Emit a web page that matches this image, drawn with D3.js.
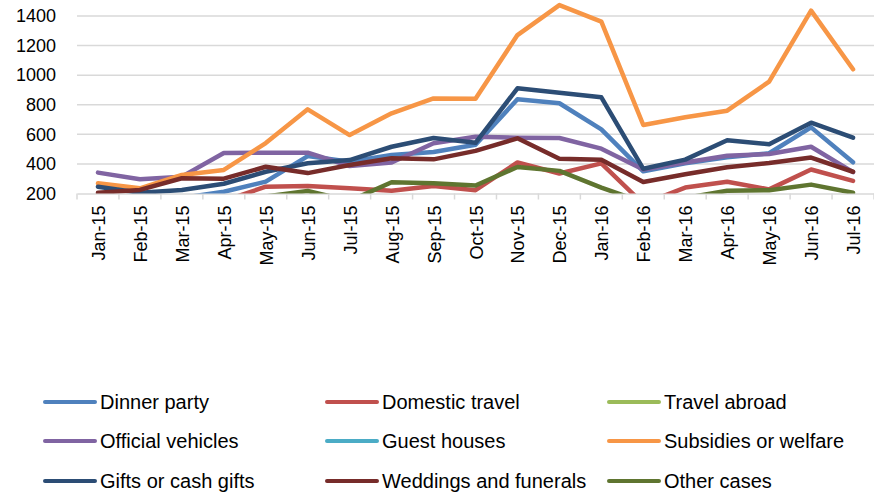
<!DOCTYPE html>
<html>
<head>
<meta charset="utf-8">
<script src="https://cdn.jsdelivr.net/npm/d3@7"></script>
<style>
  body { margin: 0; background: #fff; }
  svg text { font-family: "Liberation Sans", Arial, sans-serif; fill: #000; }
</style>
</head>
<body>
<svg id="chart" width="874" height="495"></svg>
<script>
var months = ["Jan-15","Feb-15","Mar-15","Apr-15","May-15","Jun-15","Jul-15","Aug-15","Sep-15","Oct-15",
  "Nov-15","Dec-15","Jan-16","Feb-16","Mar-16","Apr-16","May-16","Jun-16","Jul-16"];
var yTicks = [200, 400, 600, 800, 1000, 1200, 1400];

var dinnerParty      = [150,160,170,212,280,453,415,460,480,530,837,810,634,350,405,445,472,647,411];
var domesticTravel   = [120,130,140,150,246,251,235,219,251,222,410,335,404,130,240,280,228,362,285];
var travelAbroad     = [60,70,65,80,90,100,95,110,120,115,150,140,130,90,100,110,105,120,100];
var officialVehicles = [341,296,314,474,476,476,386,410,540,584,577,575,503,362,410,455,467,516,345];
var guestHouses      = [40,50,45,60,70,80,75,90,95,100,130,120,110,70,80,85,90,100,85];
var subsidies        = [269,235,325,359,541,769,595,742,843,841,1271,1474,1362,663,715,760,956,1436,1040];
var giftsCash        = [246,205,224,266,347,404,426,516,575,543,911,881,850,367,429,560,533,679,577];
var weddings         = [205,224,303,300,381,338,393,438,431,488,573,435,428,278,330,378,406,443,347];
var otherCases       = [100,110,120,150,180,217,150,276,269,254,379,353,240,140,170,218,222,260,205];

var series = [
  {name: "Dinner party", values: dinnerParty, color: "#4f81bd"},
  {name: "Domestic travel", values: domesticTravel, color: "#c0504d"},
  {name: "Travel abroad", values: travelAbroad, color: "#9bbb59"},
  {name: "Official vehicles", values: officialVehicles, color: "#8064a2"},
  {name: "Guest houses", values: guestHouses, color: "#4bacc6"},
  {name: "Subsidies or welfare", values: subsidies, color: "#f79646"},
  {name: "Gifts or cash gifts", values: giftsCash, color: "#2c4d75"},
  {name: "Weddings and funerals", values: weddings, color: "#772c2a"},
  {name: "Other cases", values: otherCases, color: "#5f7530"}
];

var svg = d3.select("#chart");
var plot = {left: 77, right: 874, top: 16, bottom: 193.5};

var x = d3.scaleBand().domain(months).range([plot.left, plot.right]).padding(0);
var y = d3.scaleLinear().domain([200, 1400]).range([plot.bottom, plot.top]);

// gridlines
svg.append("g").selectAll("line")
  .data(yTicks.slice(1))
  .join("line")
  .attr("x1", plot.left).attr("x2", plot.right)
  .attr("y1", function(d) { return y(d); }).attr("y2", function(d) { return y(d); })
  .attr("stroke", "#d9d9d9").attr("stroke-width", 1.5);

// y labels
svg.append("g").selectAll("text")
  .data(yTicks)
  .join("text")
  .attr("x", 56)
  .attr("y", function(d) { return y(d); })
  .attr("dy", "0.35em")
  .attr("text-anchor", "end")
  .style("font-size", "18px")
  .text(function(d) { return d; });

// x axis
var xAxis = d3.axisBottom(x).tickSize(0).tickFormat("");
var gx = svg.append("g").attr("transform", "translate(0," + y(200) + ")").call(xAxis);
gx.select(".domain").attr("stroke", "#d9d9d9").attr("stroke-width", 1.5);
gx.selectAll(".tick").remove();
gx.selectAll("line.sep")
  .data(months.concat(["end"]))
  .join("line")
  .attr("class", "sep")
  .attr("x1", function(d, i) { return plot.left + i * x.bandwidth(); })
  .attr("x2", function(d, i) { return plot.left + i * x.bandwidth(); })
  .attr("y1", 0).attr("y2", 6)
  .attr("stroke", "#d9d9d9").attr("stroke-width", 1.5);

svg.append("g").selectAll("text")
  .data(months)
  .join("text")
  .attr("transform", function(d) {
    return "translate(" + (x(d) + x.bandwidth() / 2 + 7) + "," + (y(200) + 12) + ") rotate(-90)";
  })
  .attr("text-anchor", "end")
  .style("font-size", "18px")
  .text(function(d) { return d; });

// lines, clipped at the 200 baseline
svg.append("clipPath").attr("id", "clip")
  .append("rect").attr("x", plot.left).attr("y", 0)
  .attr("width", plot.right - plot.left).attr("height", plot.bottom);

var line = d3.line()
  .x(function(d, i) { return x(months[i]) + x.bandwidth() / 2; })
  .y(function(d) { return y(d); });

svg.append("g").attr("clip-path", "url(#clip)")
  .selectAll("path")
  .data(series)
  .join("path")
  .attr("fill", "none")
  .attr("stroke", function(d) { return d.color; })
  .attr("stroke-width", 4.5)
  .attr("stroke-linejoin", "round")
  .attr("stroke-linecap", "round")
  .attr("d", function(d) { return line(d.values); });

// legend
var colX = [45, 327, 609], rowY = [402, 441, 481];
var leg = svg.append("g").selectAll("g")
  .data(series)
  .join("g")
  .attr("transform", function(d, i) { return "translate(" + colX[i % 3] + "," + rowY[Math.floor(i / 3)] + ")"; });
leg.append("line")
  .attr("x1", 0).attr("x2", 50).attr("y1", 0).attr("y2", 0)
  .attr("stroke", function(d) { return d.color; })
  .attr("stroke-width", 4).attr("stroke-linecap", "round");
leg.append("text")
  .attr("x", 55).attr("dy", "0.35em")
  .style("font-size", "20px")
  .text(function(d) { return d.name; });
</script>
</body>
</html>
